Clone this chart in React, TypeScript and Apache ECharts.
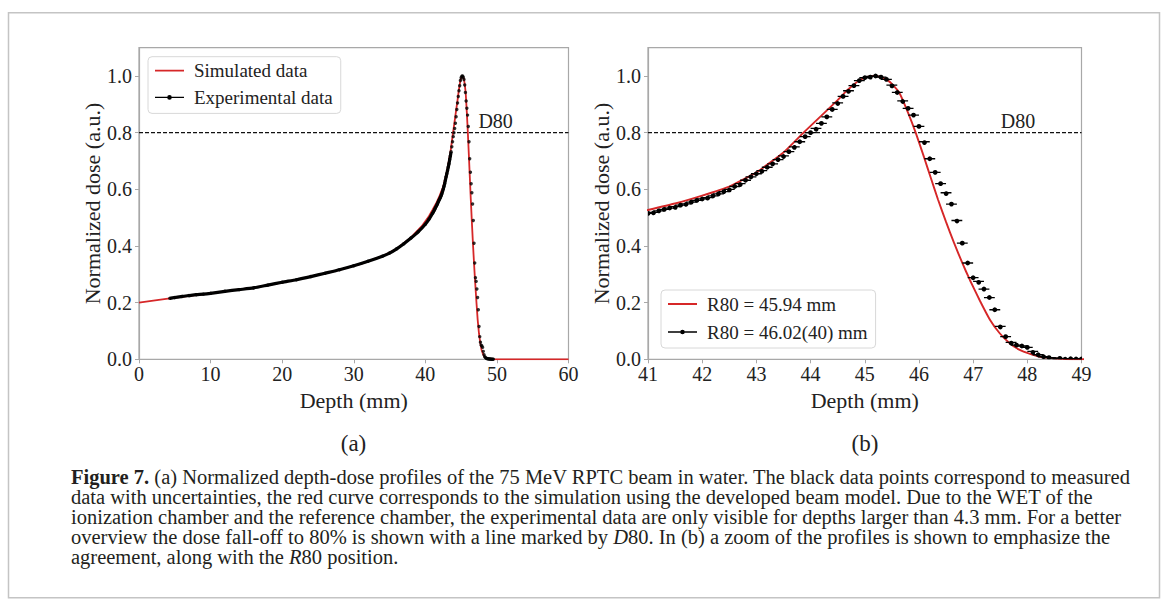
import React, { useEffect, useRef } from 'react';
import * as echarts from 'echarts';

// ---------- data ----------
const simDepth = [0, 2, 4.3, 7, 10, 13, 16, 19, 22, 25, 28, 31, 34, 36, 38, 39.5, 40.5, 41.0, 41.5, 42.0, 42.5, 43.0, 43.5, 43.87, 44.2, 44.5, 44.65, 44.8, 44.9, 45.05, 45.17, 45.3, 45.4, 45.5, 45.64, 45.8, 45.94, 46.1, 46.22, 46.35, 46.5, 46.65, 46.8, 46.94, 47.13, 47.31, 47.49, 47.68, 47.86, 48.05, 48.23, 48.42, 48.7, 49.0, 60];
const simDose = [0.200, 0.207, 0.215, 0.224, 0.233, 0.243, 0.253, 0.266, 0.281, 0.298, 0.316, 0.337, 0.364, 0.39, 0.43, 0.47, 0.505, 0.527, 0.55, 0.578, 0.61, 0.66, 0.73, 0.80, 0.86, 0.915, 0.945, 0.97, 0.985, 0.997, 1.0, 0.996, 0.988, 0.972, 0.94, 0.87, 0.80, 0.71, 0.64, 0.565, 0.485, 0.41, 0.34, 0.28, 0.205, 0.14, 0.092, 0.056, 0.033, 0.019, 0.009, 0.005, 0.001, 0, 0];

const expDepth = [4.3, 5, 6, 7, 8, 9, 10, 12, 14, 16, 18, 20, 22, 24, 26, 28, 30, 32, 34, 35, 36, 37, 38, 39, 40, 40.5,
  41.0, 41.1, 41.2, 41.3, 41.4, 41.5, 41.6, 41.7, 41.8, 41.9,
  42.0, 42.1, 42.2, 42.3, 42.4, 42.5, 42.6, 42.7, 42.8, 42.9,
  43.0, 43.1, 43.2, 43.3, 43.4, 43.5, 43.6, 43.7, 43.8, 43.9,
  44.0, 44.1, 44.2, 44.3, 44.4, 44.5, 44.6, 44.7, 44.8, 44.9,
  45.0, 45.1, 45.2, 45.3, 45.4, 45.5, 45.6, 45.7, 45.8, 45.9,
  46.0, 46.1, 46.2, 46.3, 46.4, 46.5, 46.6, 46.7, 46.8, 46.9,
  47.0, 47.1, 47.2, 47.3, 47.4, 47.5, 47.6, 47.7, 47.8, 47.9,
  48.0, 48.1, 48.2, 48.3, 48.4, 48.5, 48.6, 48.7, 48.8, 48.9,
  49.0, 49.1, 49.2, 49.3, 49.4, 49.5];
const expDose = [0.215, 0.218, 0.222, 0.225, 0.228, 0.230, 0.233, 0.240, 0.246, 0.252, 0.262, 0.272, 0.281, 0.292, 0.304, 0.316, 0.330, 0.346, 0.364, 0.375, 0.390, 0.408, 0.428, 0.450, 0.477, 0.494,
  0.515, 0.519, 0.524, 0.529, 0.534, 0.539, 0.544, 0.549, 0.555, 0.561,
  0.566, 0.571, 0.577, 0.584, 0.592, 0.600, 0.610, 0.620, 0.632, 0.644,
  0.655, 0.666, 0.678, 0.690, 0.705, 0.718, 0.733, 0.750, 0.768, 0.786,
  0.800, 0.815, 0.833, 0.856, 0.882, 0.905, 0.928, 0.948, 0.966, 0.984,
  0.994, 0.999, 1.000, 0.996, 0.988, 0.968, 0.942, 0.912, 0.886, 0.862,
  0.822, 0.768, 0.708, 0.660, 0.620, 0.588, 0.548, 0.490, 0.410, 0.340,
  0.288, 0.275, 0.248, 0.218, 0.175, 0.116, 0.080, 0.060, 0.050, 0.047,
  0.042, 0.028, 0.016, 0.009, 0.006, 0.004, 0.003, 0.002, 0.002, 0.001,
  0.001, 0.001, 0.0, 0.0, 0.0, 0.0];
const DEPTH_ERR = 0.1; // horizontal uncertainty (mm)
const D80_LEVEL = 0.8;

const yTicks = [0, 0.2, 0.4, 0.6, 0.8, 1.0];
const leftLegendNames = ['Simulated data', 'Experimental data'];
const rightLegendNames = ['R80 = 45.94 mm', 'R80 = 46.02(40) mm'];

const captionLines = [
  '{b|Figure 7.} (a) Normalized depth-dose profiles of the 75 MeV RPTC beam in water. The black data points correspond to measured',
  'data with uncertainties, the red curve corresponds to the simulation using the developed beam model. Due to the WET of the',
  'ionization chamber and the reference chamber, the experimental data are only visible for depths larger than 4.3 mm. For a better',
  'overview the dose fall-off to 80% is shown with a line marked by {i|D}80. In (b) a zoom of the profiles is shown to emphasize the',
  'agreement, along with the {i|R}80 position.',
];

// ---------- styling ----------
const FONT = "'Liberation Serif', 'Times New Roman', serif";
const FRAME = '#a8a8a8';
const TXT = '#222222';
const RED = '#d62728';

const ICON_LINE = 'path://M0,0h0.01v0.01h-0.01z M0,6.1H29V7.9H0Z M33.99,13.99h0.01v0.01h-0.01z';
const ICON_ERR = 'path://M0,0h0.01v0.01h-0.01z M0,6.3H29V7.7H0Z M12.2,7a2.3,2.3 0 1,1 4.6,0a2.3,2.3 0 1,1 -4.6,0Z M33.99,13.99h0.01v0.01h-0.01z';

const simPairs = simDepth.map((d, i) => [d, simDose[i]]);
const expPairs = expDepth.map((d, i) => [d, expDose[i]]);
const expDense = expPairs.filter((p) => p[0] <= 43.6);
const expErr = expDepth.map((d, i) => [d, expDose[i], DEPTH_ERR]);

function xAxis(gridIndex: number, min: number, max: number, interval: number) {
  return {
    type: 'value', gridIndex, min, max, interval,
    name: 'Depth (mm)', nameLocation: 'middle', nameGap: 28,
    nameTextStyle: { fontFamily: FONT, fontSize: 22, color: TXT },
    axisLine: { show: true, onZero: false, lineStyle: { color: FRAME, width: 1.2 } },
    axisTick: { show: true, inside: false, length: 4, lineStyle: { color: FRAME, width: 1 } },
    axisLabel: { fontFamily: FONT, fontSize: 20, color: TXT, margin: 5 },
    splitLine: { show: false },
  };
}
function yAxis(gridIndex: number) {
  return {
    type: 'value', gridIndex, min: 0, max: 1.1, interval: 0.2,
    name: 'Normalized dose (a.u.)', nameLocation: 'middle', nameGap: 35, nameRotate: 90,
    nameTextStyle: { fontFamily: FONT, fontSize: 22, color: TXT },
    axisLine: { show: true, lineStyle: { color: FRAME, width: 1.2 } },
    axisTick: { show: true, inside: false, length: 4, lineStyle: { color: FRAME, width: 1 }, customValues: yTicks },
    axisLabel: {
      fontFamily: FONT, fontSize: 20, color: TXT, margin: 7, customValues: yTicks,
      formatter: (v: number) => (Math.abs(v * 5 - Math.round(v * 5)) < 1e-6 ? v.toFixed(1) : ''),
    },
    splitLine: { show: false },
  };
}
function legend(left: number, top: number, names: string[], gap: number) {
  return {
    show: true, orient: 'vertical', left, top, padding: [4, 8, 6, 7], itemGap: gap,
    itemWidth: 34, itemHeight: 14, selectedMode: false,
    data: [{ name: names[0], icon: ICON_LINE }, { name: names[1], icon: ICON_ERR }],
    textStyle: { fontFamily: FONT, fontSize: 19, color: TXT, lineHeight: 20 },
    itemStyle: { borderWidth: 0, borderColor: 'transparent' },
    backgroundColor: 'rgba(255,255,255,0.85)', borderColor: '#d8d8d8', borderWidth: 1, borderRadius: 4,
  };
}
function d80Series(xi: number, x0: number, x1: number, labelX: number) {
  return {
    type: 'line', name: 'D80', xAxisIndex: xi, yAxisIndex: xi,
    data: [[x0, D80_LEVEL], [x1, D80_LEVEL]], symbol: 'none', silent: true, z: 1,
    lineStyle: { color: '#111', width: 1.2, type: [4, 2] },
    markPoint: {
      symbol: 'circle', symbolSize: 0, silent: true,
      data: [{ coord: [labelX, D80_LEVEL] }],
      label: {
        show: true, formatter: 'D80', position: [0, -2], align: 'left', verticalAlign: 'bottom',
        fontFamily: FONT, fontSize: 20, color: TXT,
      },
    },
  };
}

const option = {
  animation: false,
  textStyle: { fontFamily: FONT },
  grid: [
    { left: 139, top: 47.7, width: 429.5, height: 311.6, show: true, borderColor: FRAME, borderWidth: 1.2, backgroundColor: 'transparent' },
    { left: 648, top: 47.7, width: 433.5, height: 311.6, show: true, borderColor: FRAME, borderWidth: 1.2, backgroundColor: 'transparent' },
  ],
  xAxis: [xAxis(0, 0, 60, 10), xAxis(1, 41, 49, 1)],
  yAxis: [yAxis(0), yAxis(1)],
  legend: [legend(148, 56.7, leftLegendNames, 6.7), legend(661, 290, rightLegendNames, 8)],
  series: [
    d80Series(0, 0, 60, 47.41),
    {
      type: 'line', name: leftLegendNames[0], xAxisIndex: 0, yAxisIndex: 0, data: simPairs,
      symbol: 'none', color: RED, lineStyle: { color: RED, width: 1.8 }, z: 3,
    },
    {
      type: 'line', name: leftLegendNames[1], xAxisIndex: 0, yAxisIndex: 0, data: expDense,
      symbol: 'none', color: '#000', lineStyle: { color: '#000', width: 3.2 }, z: 4, smooth: 0.2,
    },
    {
      type: 'scatter', name: leftLegendNames[1], xAxisIndex: 0, yAxisIndex: 0, data: expPairs,
      symbol: 'circle', symbolSize: 3.4, itemStyle: { color: '#000' }, z: 5,
    },
    d80Series(1, 41, 49, 47.51),
    {
      type: 'line', name: rightLegendNames[0], xAxisIndex: 1, yAxisIndex: 1, data: simPairs,
      symbol: 'none', color: RED, lineStyle: { color: RED, width: 1.9 }, z: 3, smooth: 0.15,
    },
    {
      type: 'custom', name: rightLegendNames[1], xAxisIndex: 1, yAxisIndex: 1, data: expErr, clip: true, z: 5,
      itemStyle: { color: '#000' }, encode: { x: 0, y: 1 },
      renderItem: (params: any, api: any) => {
        const x = api.value(0), y = api.value(1), e = api.value(2);
        const p = api.coord([x, y]);
        const l = api.coord([x - e, y]);
        const r = api.coord([x + e, y]);
        return {
          type: 'group',
          children: [
            { type: 'line', shape: { x1: l[0], y1: p[1], x2: r[0], y2: p[1] }, style: { stroke: '#000', lineWidth: 1.3 } },
            { type: 'circle', shape: { cx: p[0], cy: p[1], r: 2.4 }, style: { fill: '#000' } },
          ],
        };
      },
    },
  ],
  graphic: [
    { type: 'rect', silent: true, z: -10, shape: { x: 8.5, y: 12.7, width: 1151, height: 585 }, style: { fill: 'none', stroke: '#c4c4c4', lineWidth: 1.5 } },
    { type: 'text', silent: true, x: 353.5, y: 443, style: { text: '(a)', fontFamily: FONT, fontSize: 23, fill: TXT, align: 'center', verticalAlign: 'middle' } },
    { type: 'text', silent: true, x: 865, y: 443, style: { text: '(b)', fontFamily: FONT, fontSize: 23, fill: TXT, align: 'center', verticalAlign: 'middle' } },
    {
      type: 'text', silent: true, x: 71, y: 467,
      style: {
        text: captionLines.join('\n'), fontFamily: FONT, fontSize: 20.5, lineHeight: 20, fill: '#231f20',
        align: 'left', verticalAlign: 'top',
        rich: {
          b: { fontFamily: FONT, fontSize: 20.5, fontWeight: 'bold', lineHeight: 20, fill: '#231f20' },
          i: { fontFamily: FONT, fontSize: 20.5, fontStyle: 'italic', lineHeight: 20, fill: '#231f20' },
        },
      },
    },
  ],
};

export default function App() {
  const ref = useRef<HTMLDivElement>(null);
  useEffect(() => {
    const chart = echarts.init(ref.current!, null, { renderer: 'svg' });
    chart.setOption(option as any);
    return () => chart.dispose();
  }, []);
  return (
    <div style={{ position: 'absolute', left: 0, top: 0, width: 1168, height: 610, background: '#fff' }}>
      <div ref={ref} style={{ width: 1168, height: 610 }} />
    </div>
  );
}
